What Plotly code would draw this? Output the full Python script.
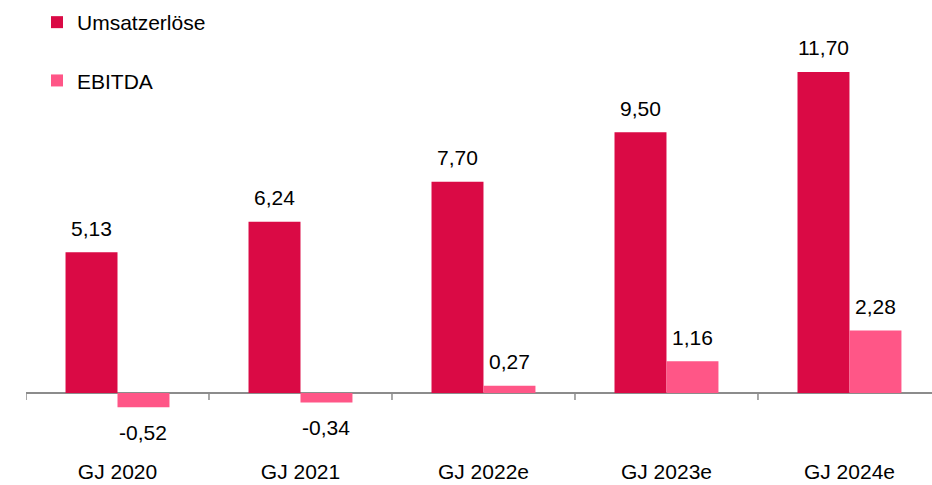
import plotly.graph_objects as go

categories = ["GJ 2020", "GJ 2021", "GJ 2022e", "GJ 2023e", "GJ 2024e"]
umsatz = [5.13, 6.24, 7.70, 9.50, 11.70]
ebitda = [-0.52, -0.34, 0.27, 1.16, 2.28]
series_names = ["Umsatzerlöse", "EBITDA"]
colors = ["#DA0A45", "#FF5687"]

FONT = "Arial, Liberation Sans, sans-serif"
BARGAP = 0.432

def fmt(v):
    return f"{v:.2f}".replace(".", ",")

xs = list(range(len(categories)))
fig = go.Figure()
for i, (name, vals, col) in enumerate(zip(series_names, [umsatz, ebitda], colors)):
    fig.add_trace(go.Bar(x=xs, y=vals, name=name, marker=dict(color=col, line=dict(width=0)),
                         legendgroup=f"g{i}"))

half = (1 - BARGAP) / 4
annotations = []
for si, vals in enumerate([umsatz, ebitda]):
    off = -half if si == 0 else half
    for xi, v in zip(xs, vals):
        annotations.append(dict(x=xi + off, y=v, xref="x", yref="y", text=fmt(v), showarrow=False,
                                yshift=24 if v >= 0 else -25, font=dict(size=21, color="#000000", family=FONT)))

shapes = []
for b in range(len(categories) + 1):
    shapes.append(dict(type="line", xref="x", yref="y", x0=b - 0.5, x1=b - 0.5,
                       ysizemode="pixel", yanchor=0, y0=0, y1=-7,
                       line=dict(color="#8C8C8C", width=1.5)))

fig.update_layout(
    width=932, height=485,
    margin=dict(l=26, r=0, t=0, b=28),
    paper_bgcolor="white", plot_bgcolor="white",
    barmode="group", bargap=BARGAP, bargroupgap=0,
    font=dict(family=FONT, size=21, color="#000000"),
    showlegend=True,
    legend=dict(x=11 / 906, xanchor="left", y=1 - 2 / 457, yanchor="top",
                tracegroupgap=28, font=dict(size=21, family=FONT),
                bgcolor="rgba(0,0,0,0)"),
    xaxis=dict(tickmode="array", tickvals=xs, ticktext=categories, range=[-0.5, 4.451],
               showgrid=False, showline=False, ticks="", zeroline=False,
               tickfont=dict(size=21, family=FONT)),
    yaxis=dict(range=[-2.33, 14.32], visible=True, showticklabels=False, showgrid=False,
               showline=False, ticks="", zeroline=True, zerolinecolor="#8C8C8C", zerolinewidth=2),
    annotations=annotations,
    shapes=shapes,
)

fig.write_html("out.html")
